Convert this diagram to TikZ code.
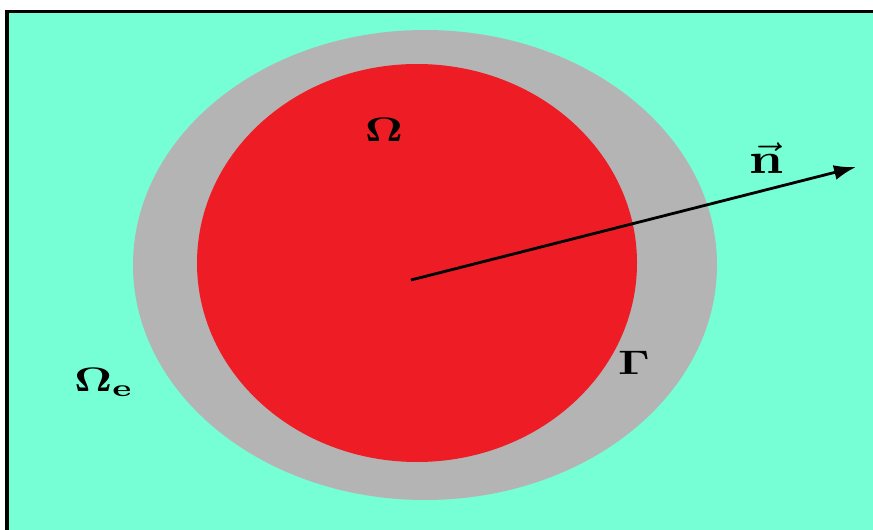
\documentclass[tikz,border=0pt]{standalone}
\usepackage{amsmath,amssymb,bm}
\usepackage{tikz}
\usetikzlibrary{arrows.meta}
\definecolor{aqua}{RGB}{118,255,212}
\definecolor{domred}{RGB}{238,28,36}
\definecolor{ringgray}{RGB}{180,180,180}
\tikzset{lbl/.style={xscale=4.6,yscale=3.4}}

\begin{document}
\begin{tikzpicture}[x=1pt,y=-1pt]
    \useasboundingbox (0,0) rectangle (873,530);
    %\draw[help lines] grid(873,530);
    % -------------------------
    % Background and frame
    % -------------------------
    \fill[white] (0,0) rectangle (873,530);
    \fill[aqua] (7,11.5) rectangle (873,530);
    \draw[line width=3.5pt] (7,531) -- (7,11.5) -- (874,11.5);

    % -------------------------
    % Outer ring (Omega_e side)
    % -------------------------
    \fill[ringgray] (425,265) ellipse (292 and 235);

    % -------------------------
    % Inner domain
    % -------------------------
    \fill[domred] (417,263) ellipse (220 and 199);

    % Normal vector
    \coordinate (centre) at (411,280);
    \coordinate (tip) at (856,167);
    \draw[line width=2.8pt, -{Latex[length=22pt,width=15pt]}] (centre) -- (tip);

    % Labels
    \node[lbl] (omega) at (384,130) {$\bm{\Omega}$};
    \node[xscale=5.4,yscale=4.3] (normal) at (766,158) {$\vec{\mathbf{n}}$};
    \node[lbl] (gamma) at (634,363) {$\bm{\Gamma}$};
    \node[lbl] (omegae) at (104,382) {$\bm{\Omega}_{\mathbf{e}}$};

\end{tikzpicture}
\end{document}
